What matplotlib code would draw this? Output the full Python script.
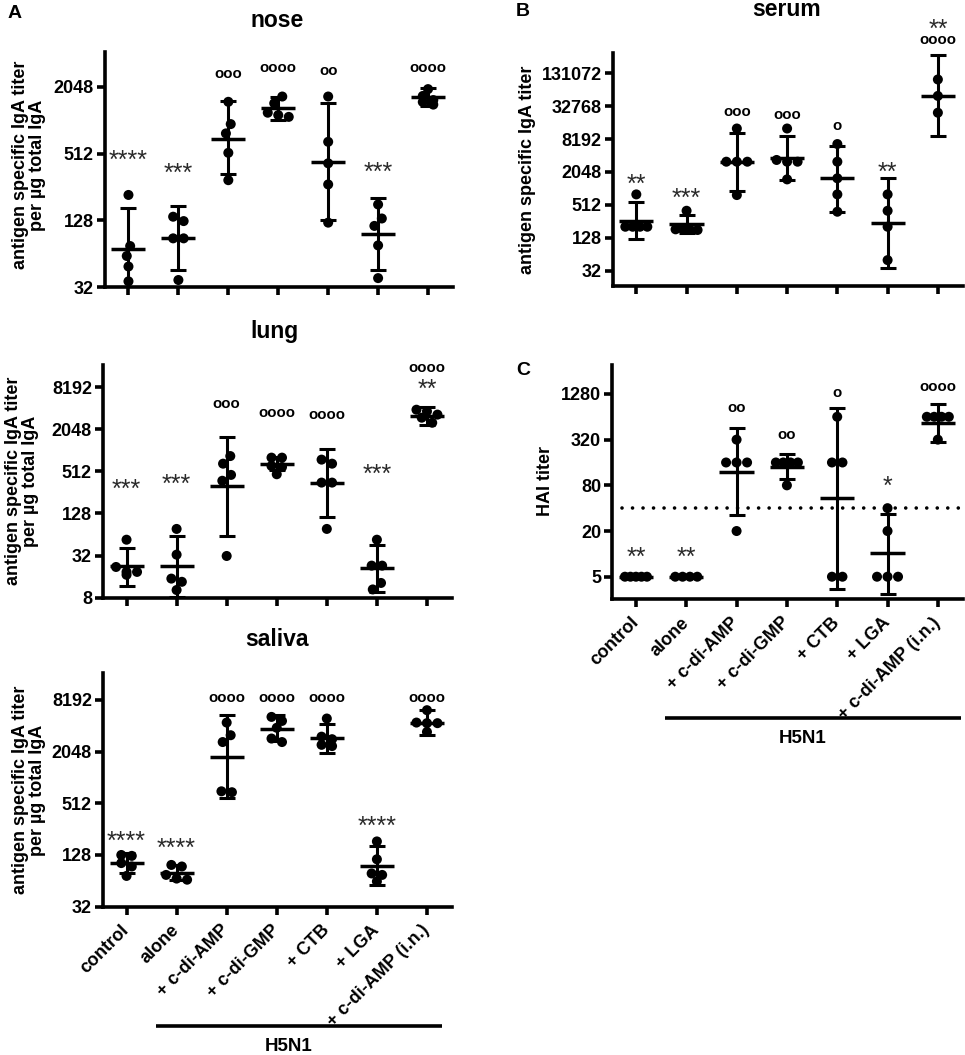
import numpy as np
import matplotlib
matplotlib.use("Agg")
import matplotlib.pyplot as plt
from matplotlib.ticker import NullLocator
from matplotlib.transforms import blended_transform_factory

plt.rcParams['font.family'] = ['Liberation Sans', 'DejaVu Sans']

W, H = 965, 1055

groups = ["control", "alone", "+ c-di-AMP", "+ c-di-GMP", "+ CTB", "+ LGA", "+ c-di-AMP (i.n.)"]
bracket_label = "H5N1"

# ---------------- nose (IgA titer per ug total IgA) ----------------
nose_points = [[217, 75, 61, 49, 36],
               [126, 138, 88, 88, 37],
               [1505, 947, 780, 521, 295],
               [1680, 1460, 1200, 1142, 1100],
               [1680, 655, 419, 270, 122],
               [178, 133, 114, 76, 38.5],
               [1960, 1700, 1560, 1500, 1420]]
nose_mean = [71, 88, 700, 1313, 433, 96, 1680]
nose_lo = [30.7, 46, 333, 1030, 128, 46, 1380]
nose_hi = [164, 172, 1540, 1660, 1460, 202, 2000]
nose_sig = ["****", "***", "ooo", "oooo", "oo", "***", "oooo"]
nose_sig_y = [511, 391, 2683, 3057, 2855, 398, 3017]
nose_yticks = [32, 128, 512, 2048]

# ---------------- lung ----------------
lung_points = [[54, 18.7, 17, 18.7, 22],
               [77, 33, 15, 13.5, 10.3],
               [848, 660, 456, 376, 31.6],
               [805, 805, 612, 590, 466],
               [754, 660, 354, 354, 77],
               [54, 23, 23, 13, 10.5],
               [3900, 3700, 3320, 2540, 3000]]
lung_mean = [22.5, 22.5, 315, 645, 346, 21.4, 3210]
lung_lo = [11.8, 8.2, 62, 540, 113, 9.8, 2390]
lung_hi = [41.5, 62, 1594, 820, 1073, 45.6, 4220]
lung_sig = ["***", "***", "ooo", "oooo", "oooo", "***", ("oooo", "**")]
lung_sig_y = [354, 420, 4750, 3495, 3240, 580, (15200, 9600)]
lung_yticks = [8, 32, 128, 512, 2048, 8192]

# ---------------- saliva ----------------
saliva_points = [[128, 125, 103, 94, 73],
                 [98, 94, 75, 66, 68],
                 [4450, 3170, 2640, 688, 705],
                 [4650, 5180, 3870, 2640, 2900],
                 [4960, 2850, 3050, 2370, 2450],
                 [184, 114, 78, 75, 63],
                 [6200, 4380, 4380, 3460, 4450]]
saliva_mean = [103, 80, 1780, 3770, 2925, 96, 4450]
saliva_lo = [78, 66, 585, 2730, 1950, 57, 3170]
saliva_hi = [134, 98, 5400, 5400, 4250, 161, 6200]
saliva_sig = ["****", "****", "oooo", "oooo", "oooo", "****", "oooo"]
saliva_sig_y = [220, 184, 8580, 8580, 8580, 330, 8580]
saliva_yticks = [32, 128, 512, 2048, 8192]

# ---------------- serum ----------------
serum_points = [[797, 204, 204, 204, 204],
                [400, 183, 178, 178, 183],
                [12800, 3160, 3160, 3160, 775],
                [12800, 3160, 3400, 3160, 1500],
                [6650, 3160, 1570, 797, 384],
                [797, 400, 204, 50],
                [101000, 50500, 24900]]
serum_mean = [262, 227, 3160, 3740, 1570, 242, 50500]
serum_lo = [121, 155, 930, 1470, 384, 36, 9300]
serum_hi = [570, 333, 10700, 9450, 6200, 1570, 284000]
serum_sig = ["**", "***", "ooo", "ooo", "o", "**", ("**", "oooo")]
serum_sig_y = [1612, 893, 25980, 22600, 14180, 2750, (1100000, 520000)]
serum_yticks = [32, 128, 512, 2048, 8192, 32768, 131072]

# ---------------- HAI ----------------
hai_points = [[5, 5, 5, 5, 5],
              [5, 5, 5, 5],
              [320, 160, 160, 160, 20],
              [160, 160, 160, 80, 160],
              [640, 160, 160, 5, 5],
              [40, 20, 5, 5, 5],
              [640, 640, 640, 640, 320]]
hai_mean = [5, 5, 121, 141, 54, 10.2, 534]
hai_lo = [5, 5, 33, 96, 3.4, 3.0, 300]
hai_hi = [5, 5, 450, 205, 826, 34, 942]
hai_sig = ["**", "**", "oo", "oo", "o", "*", "oooo"]
hai_sig_y = [11.2, 11.2, 844, 368, 1327, 96, 1590]
hai_yticks = [5, 20, 80, 320, 1280]
hai_threshold = 40

fig = plt.figure(figsize=(W / 100, H / 100), dpi=100)

LW = 2.2


def px_axes(l, t, r, b):
    return fig.add_axes([l / W, 1 - b / H, (r - l) / W, (b - t) / H])


def swarm(ax, x0, vals, d=10.5, maxpx=11.0):
    vals = np.asarray(vals, float)
    pts = ax.transData.transform(np.column_stack([np.full(len(vals), x0), vals]))
    ys = pts[:, 1]
    order = np.argsort(-ys)
    rows = []
    for i in order:
        if rows and abs(ys[rows[-1][0]] - ys[i]) < 0.5 * d:
            rows[-1].append(i)
        else:
            rows.append([i])
    off = np.zeros(len(vals))
    for row in rows:
        n = len(row)
        if n > 1:
            step = d
            if (n - 1) / 2 * step > maxpx:
                step = 2 * maxpx / (n - 1)
            for k, i in enumerate(row):
                off[i] = (k - (n - 1) / 2) * step
    # zig-zag for chains of close single points
    sign = 1
    for a in range(1, len(rows)):
        ra, rb = rows[a - 1], rows[a]
        if len(ra) == 1 and len(rb) == 1:
            dy = abs(ys[ra[0]] - ys[rb[0]])
            if dy < d:
                h = np.sqrt(max(d * d - dy * dy, 0)) / 2
                if off[ra[0]] == 0:
                    off[ra[0]] = sign * h
                    off[rb[0]] = -sign * h
                else:
                    off[rb[0]] = -np.sign(off[ra[0]]) * h
    ppu = ax.transData.transform([[1, 1]])[0, 0] - ax.transData.transform([[0, 1]])[0, 0]
    return off / ppu


def annotate(ax, x, s, v):
    if '*' in s:
        fs = 18
        ax.annotate(s, xy=(x, v), xytext=(0, -0.575 * fs), textcoords='offset points',
                    ha='center', va='baseline', fontsize=fs, color='#2a2a2a',
                    annotation_clip=False)
    else:
        fs = 10.8
        ax.annotate(s, xy=(x, v), xytext=(0, -0.26 * fs), textcoords='offset points',
                    ha='center', va='baseline', fontsize=fs, fontweight='bold',
                    color='black', annotation_clip=False)


def panel(rect, points, mean, lo, hi, sig, sig_y, yticks, ylim, xlabels=False):
    ax = px_axes(*rect)
    ax.set_yscale('log', base=2)
    ax.set_ylim(*ylim)
    ax.set_xlim(-0.47, 6.5)
    ax.set_yticks(yticks)
    ax.set_yticklabels([str(v) for v in yticks])
    ax.yaxis.set_minor_locator(NullLocator())
    ax.set_xticks(range(len(groups)))
    if xlabels:
        ax.set_xticklabels(groups, rotation=45, ha='right', va='center',
                           rotation_mode='anchor', fontsize=13.5, fontweight='bold')
    else:
        ax.set_xticklabels([])
    for sp in ['top', 'right']:
        ax.spines[sp].set_visible(False)
    for sp in ['left', 'bottom']:
        ax.spines[sp].set_linewidth(LW + 0.4)
    ax.tick_params(axis='both', direction='out', length=6, width=LW + 0.4,
                   labelsize=13, pad=2)
    ax.tick_params(axis='x', pad=9)
    for lab in ax.get_yticklabels():
        lab.set_fontweight('bold')
    for i in range(len(groups)):
        m = mean[i]
        if hi[i] > m or lo[i] < m:
            ax.errorbar([i], [m], yerr=[[m - lo[i]], [hi[i] - m]], fmt='none',
                        ecolor='black', elinewidth=LW, capsize=6, capthick=LW, zorder=2)
        ax.hlines(m, i - 0.34, i + 0.34, colors='black', lw=LW + 0.3, zorder=2)
        offs = swarm(ax, i, points[i])
        ax.scatter(i + offs, points[i], s=52, c='black', edgecolors='none',
                   zorder=3, clip_on=False)
        s, v = sig[i], sig_y[i]
        if isinstance(s, tuple):
            for ss, vv in zip(s, v):
                annotate(ax, i, ss, vv)
        else:
            annotate(ax, i, s, v)
    return ax


def ftext(x, y, s, **kw):
    fig.text(x / W, 1 - y / H, s, **kw)


ax_nose = panel((105, 52, 453, 287), nose_points, nose_mean, nose_lo, nose_hi,
                nose_sig, nose_sig_y, nose_yticks, (32, 4240))
ax_lung = panel((103, 365, 452, 597.7), lung_points, lung_mean, lung_lo, lung_hi,
                lung_sig, lung_sig_y, lung_yticks, (8, 17000))
ax_sal = panel((103, 673, 452, 906.7), saliva_points, saliva_mean, saliva_lo, saliva_hi,
               saliva_sig, saliva_sig_y, saliva_yticks, (32, 16800), xlabels=True)
ax_ser = panel((612.7, 52.7, 963, 286), serum_points, serum_mean, serum_lo, serum_hi,
               serum_sig, serum_sig_y, serum_yticks, (16.8, 312000))
ax_hai = panel((612.3, 365, 963, 599.3), hai_points, hai_mean, hai_lo, hai_hi,
               hai_sig, hai_sig_y, hai_yticks, (2.52, 3080), xlabels=True)

# threshold line
ax_hai.axhline(hai_threshold, xmin=0.027, xmax=1.0, color='black', lw=2.6,
               linestyle=(0, (0.01, 2.9)), dash_capstyle='round', zorder=1)

# H5N1 brackets
for ax, x0, x1, yl, yt in [(ax_sal, 0.59, 6.3, -0.51, -0.60), (ax_hai, 0.57, 6.47, -0.508, -0.596)]:
    tr = blended_transform_factory(ax.transData, ax.transAxes)
    ax.plot([x0, x1], [yl, yl], color='black', lw=LW + 0.4, transform=tr, clip_on=False,
            solid_capstyle='butt')
    ax.text((x0 + x1) / 2 - 0.2, yt, bracket_label, transform=tr, ha='center', va='center',
            fontsize=13.5, fontweight='bold')

# titles
ftext(277, 26.7, "nose", ha='center', va='baseline', fontsize=16.5, fontweight='bold')
ftext(275, 338.3, "lung", ha='center', va='baseline', fontsize=16.5, fontweight='bold')
ftext(277, 645.7, "saliva", ha='center', va='baseline', fontsize=16.5, fontweight='bold')
ftext(787, 15.5, "serum", ha='center', va='baseline', fontsize=16.5, fontweight='bold')

# panel letters
ftext(15, 13, "A", ha='center', va='center', fontsize=14, fontweight='bold')
ftext(523, 11, "B", ha='center', va='center', fontsize=14, fontweight='bold')
ftext(523, 370, "C", ha='center', va='center', fontsize=14, fontweight='bold')

# y labels
ylab2 = "antigen specific IgA titer\nper µg total IgA"
ftext(29, 165, ylab2, ha='center', va='center', rotation=90, fontsize=13,
      fontweight='bold', linespacing=1.05, multialignment='center')
ftext(22, 481, ylab2, ha='center', va='center', rotation=90, fontsize=13,
      fontweight='bold', linespacing=1.05, multialignment='center')
ftext(29, 790, ylab2, ha='center', va='center', rotation=90, fontsize=13,
      fontweight='bold', linespacing=1.05, multialignment='center')
ftext(527.5, 170, "antigen specific IgA titer", ha='center', va='center', rotation=90,
      fontsize=13, fontweight='bold')
ftext(545, 481, "HAI titer", ha='center', va='center', rotation=90,
      fontsize=13, fontweight='bold')

fig.savefig("out.png", dpi=100)
